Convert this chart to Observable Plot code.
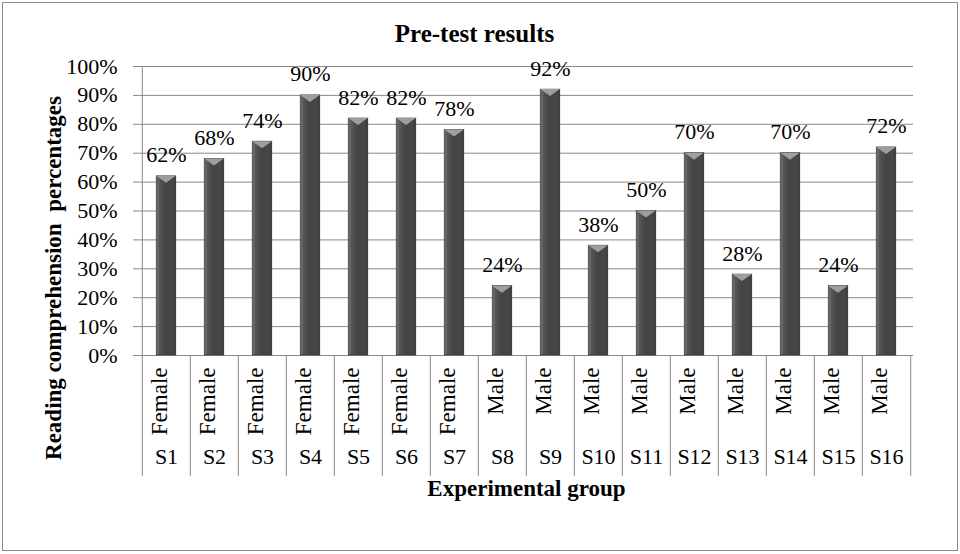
<!DOCTYPE html>
<html>
<head>
<meta charset="utf-8">
<script src="https://cdn.jsdelivr.net/npm/d3@7"></script>
<script src="https://cdn.jsdelivr.net/npm/@observablehq/plot@0.6"></script>
<style>
  html, body { margin: 0; padding: 0; background: #fff; }
  #wrap { position: relative; width: 960px; height: 554px; }
  #border { position: absolute; left: 2px; top: 2px; width: 954px; height: 547px; border: 1.5px solid #8c8c8c; pointer-events: none; }
  svg text { white-space: pre; font-variant-numeric: normal !important; }
</style>
</head>
<body>
<div id="wrap"><div id="chart"></div><div id="border"></div></div>
<script>
const students = ["S1","S2","S3","S4","S5","S6","S7","S8","S9","S10","S11","S12","S13","S14","S15","S16"];
const genders = ["Female","Female","Female","Female","Female","Female","Female","Male","Male","Male","Male","Male","Male","Male","Male","Male"];
const scores = [0.62,0.68,0.74,0.90,0.82,0.82,0.78,0.24,0.92,0.38,0.50,0.70,0.28,0.70,0.24,0.72];
const yTicks = [0,0.1,0.2,0.3,0.4,0.5,0.6,0.7,0.8,0.9,1.0];
const titleText = ["Pre-test results"];
const yLabel = ["Reading comprehension  percentages"];
const xLabel = ["Experimental group"];

const data = students.map((s, i) => ({student: s, gender: genders[i], score: scores[i]}));

const W = 960, H = 554;
const mL = 139, mR = 47, mT = 66, mB = 199;
const plotH = H - mT - mB;
const tableH = 121;
const step = (W - mL - mR) / students.length;
const font = "'Liberation Serif', 'Times New Roman', serif";
const pct = d3.format(".0%");

const chart = Plot.plot({
  width: W, height: H,
  marginLeft: mL, marginRight: mR, marginTop: mT, marginBottom: mB,
  style: {fontFamily: font, fontSize: "22px", color: "#000", background: "transparent"},
  x: {type: "band", domain: students, padding: 0, axis: null},
  y: {domain: [0, 1], axis: null},
  marks: [
    Plot.gridY(yTicks, {stroke: "#8a8a8a", strokeOpacity: 1}),
    Plot.axisY(yTicks, {tickSize: 6, tickPadding: 16, tickFormat: pct, label: null, stroke: "#8a8a8a", fontSize: 22, fontVariant: "normal", fontFamily: font}),
    Plot.ruleY([0], {stroke: "#8a8a8a"}),
    Plot.ruleX([students[0]], {dx: -step / 2, insetBottom: -tableH, stroke: "#8a8a8a"}),
    Plot.ruleX(students.slice(1), {dx: -step / 2, insetTop: plotH, insetBottom: -tableH, stroke: "#8a8a8a"}),
    Plot.ruleX([students[students.length - 1]], {dx: step / 2, insetTop: plotH, insetBottom: -tableH, stroke: "#8a8a8a"}),
    Plot.barY(data, {x: "student", y: "score", fill: "url(#barGrad)", stroke: "#2e2e2e", strokeWidth: 0.6, insetLeft: 14.2, insetRight: 14.2}),
    Plot.text(data, {x: "student", y: "score", text: d => pct(d.score), dy: -21, fontSize: 22, fontVariant: "normal", fontFamily: font}),
    Plot.text(data, {x: "student", text: "gender", frameAnchor: "bottom", rotate: -90, textAnchor: "end", dy: 12, fontSize: 23}),
    Plot.text(data, {x: "student", text: "student", frameAnchor: "bottom", dy: 108, fontSize: 22, fontVariant: "normal"}),
    Plot.text(titleText, {frameAnchor: "top", dx: -52, dy: -42, fontSize: 25, fontWeight: "bold"}),
    Plot.text(yLabel, {frameAnchor: "left", textAnchor: "middle", rotate: -90, dx: -86, dy: 67, fontSize: 23, fontWeight: "bold"}),
    Plot.text(xLabel, {frameAnchor: "bottom", dy: 140, fontSize: 23, fontWeight: "bold"})
  ]
});

// gradient definition for cylinder-like bars
const ns = "http://www.w3.org/2000/svg";
const defs = document.createElementNS(ns, "defs");
const grad = document.createElementNS(ns, "linearGradient");
grad.setAttribute("id", "barGrad");
grad.setAttribute("x1", "0"); grad.setAttribute("x2", "1");
grad.setAttribute("y1", "0"); grad.setAttribute("y2", "0");
[["0", "#747474"], ["0.18", "#555555"], ["0.5", "#434343"], ["0.85", "#484848"], ["1", "#333333"]].forEach(([o, c]) => {
  const s = document.createElementNS(ns, "stop");
  s.setAttribute("offset", o); s.setAttribute("stop-color", c);
  grad.appendChild(s);
});
defs.appendChild(grad);
chart.insertBefore(defs, chart.firstChild);

// bevelled top on each bar, derived from the rendered bar rects
chart.querySelectorAll('g[aria-label="bar"] rect').forEach(r => {
  const x = +r.getAttribute("x"), y = +r.getAttribute("y"), w = +r.getAttribute("width");
  const p = document.createElementNS(ns, "path");
  p.setAttribute("d", `M${x},${y}H${x + w}L${x + w / 2},${y + 7}Z`);
  p.setAttribute("fill", "#9e9e9e");
  p.setAttribute("stroke", "none");
  r.parentNode.appendChild(p);
});

document.getElementById("chart").appendChild(chart);
</script>
</body>
</html>
